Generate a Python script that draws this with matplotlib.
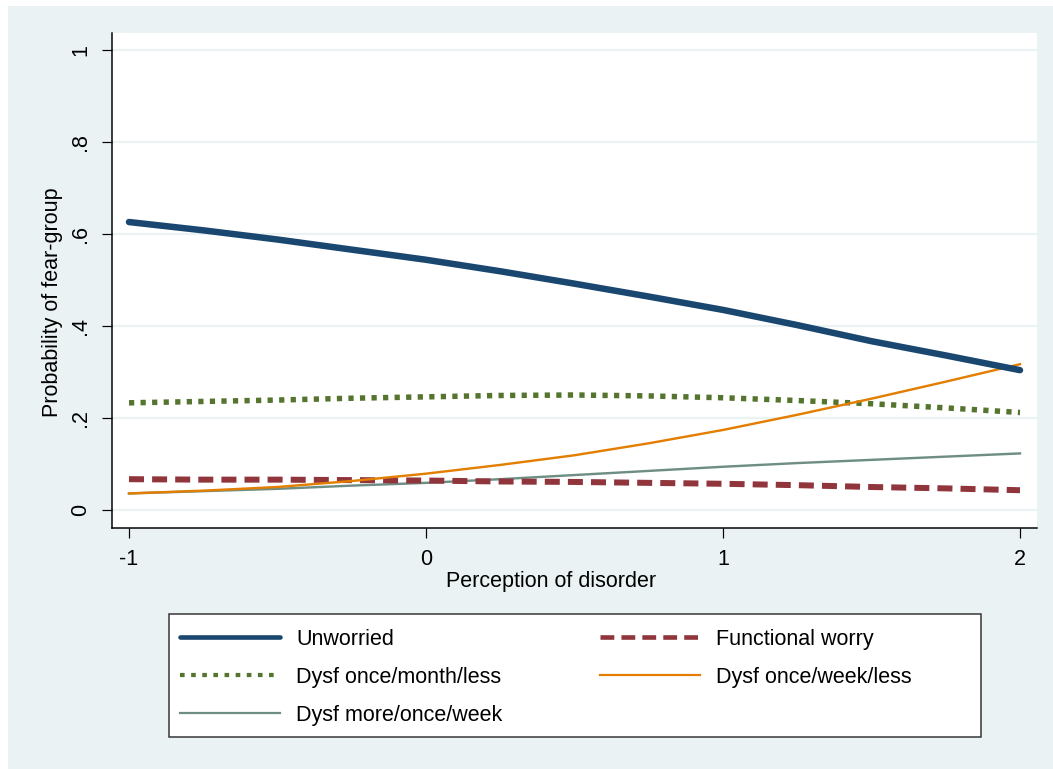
import matplotlib
matplotlib.use("Agg")
import matplotlib.pyplot as plt
from matplotlib.patches import Rectangle

plt.rcParams['font.family'] = ['Liberation Sans', 'DejaVu Sans']

# ---- data ----
x_vals = [-1, -0.75, -0.5, -0.25, 0, 0.25, 0.5, 0.75, 1, 1.25, 1.5, 1.75, 2]
unworried = [0.626, 0.608, 0.588, 0.566, 0.544, 0.519, 0.492, 0.464, 0.435, 0.402, 0.367, 0.336, 0.304]
functional_worry = [0.067, 0.066, 0.066, 0.065, 0.064, 0.062, 0.061, 0.059, 0.057, 0.054, 0.050, 0.047, 0.043]
dysf_month = [0.233, 0.236, 0.239, 0.243, 0.246, 0.249, 0.250, 0.248, 0.244, 0.238, 0.231, 0.222, 0.212]
dysf_week_less = [0.036, 0.042, 0.050, 0.063, 0.079, 0.098, 0.119, 0.145, 0.174, 0.207, 0.242, 0.279, 0.317]
dysf_more_week = [0.036, 0.041, 0.046, 0.053, 0.059, 0.067, 0.076, 0.085, 0.094, 0.102, 0.109, 0.116, 0.123]

x_ticks = [-1, 0, 1, 2]
x_ticklabels = ["-1", "0", "1", "2"]
y_ticks = [0, 0.2, 0.4, 0.6, 0.8, 1.0]
y_ticklabels = ["0", ".2", ".4", ".6", ".8", "1"]

W, H = 1053, 769
fig = plt.figure(figsize=(W / 100, H / 100), dpi=100)
fig.patch.set_facecolor("white")
BG = "#EAF2F3"
fig.patches.append(Rectangle((8 / W, 0), 1 - 8 / W, 1 - 6 / H, transform=fig.transFigure,
                             facecolor=BG, edgecolor="none", zorder=-10))

def px(x0, y0, x1, y1):
    return [x0 / W, 1 - y1 / H, (x1 - x0) / W, (y1 - y0) / H]

ax = fig.add_axes(px(112, 33, 1037, 528))
ax.set_facecolor("white")

PX = 0.72  # points per pixel
FS = 15.5

l1, = ax.plot(x_vals, unworried, color="#1A476F", lw=6.5 * PX, solid_capstyle="round",
              label="Unworried", zorder=5)
l2, = ax.plot(x_vals, functional_worry, color="#90353B", lw=6 * PX,
              dashes=(2.5, 1.35), dash_capstyle="butt", label="Functional worry", zorder=4)
l3, = ax.plot(x_vals, dysf_month, color="#55752F", lw=5.5 * PX,
              dashes=(0.95, 1.15), dash_capstyle="butt", label="Dysf once/month/less", zorder=4)
l4, = ax.plot(x_vals, dysf_week_less, color="#E37E00", lw=2.4 * PX,
              label="Dysf once/week/less", zorder=4)
l5, = ax.plot(x_vals, dysf_more_week, color="#6E8E84", lw=2.4 * PX,
              label="Dysf more/once/week", zorder=3)

ax.set_xlim(-1 - 17 / 297, 2 + 17 / 297)
ax.set_ylim(-18 / 460, 1 + 17 / 460)

ax.set_xticks(x_ticks)
ax.set_xticklabels(x_ticklabels)
ax.set_yticks(y_ticks)
ax.set_yticklabels(y_ticklabels, rotation=90, va="center")
ax.tick_params(axis="both", labelsize=FS, length=10 * PX, width=1.2 * PX, color="black",
               direction="out")
ax.tick_params(axis="y", pad=8)
ax.tick_params(axis="x", pad=8)

ax.grid(axis="y", color=BG, lw=2.2 * PX, zorder=0)
ax.set_axisbelow(True)
for s in ["top", "right"]:
    ax.spines[s].set_visible(False)
for s in ["left", "bottom"]:
    ax.spines[s].set_linewidth(1.5 * PX)
    ax.spines[s].set_color("black")

fig.text(53 / W, 1 - 302 / H, "Probability of fear-group", rotation=90, ha="center",
         va="center", fontsize=FS)
fig.text(551 / W, 1 - 581 / H, "Perception of disorder", ha="center", va="center",
         fontsize=FS)

# legend frame
fig.patches.append(Rectangle((169 / W, 1 - 737 / H), (981 - 169) / W, (737 - 614) / H,
                             transform=fig.transFigure, facecolor="white",
                             edgecolor="#333333", lw=1.5 * PX, zorder=1))
fs_px = FS / PX
leg = fig.legend([l1, l3, l5, l2, l4],
                 ["Unworried", "Dysf once/month/less", "Dysf more/once/week",
                  "Functional worry", "Dysf once/week/less"],
                 ncol=2, loc="upper left", bbox_to_anchor=(180 / W, 1 - 629 / H),
                 frameon=False, borderpad=0, borderaxespad=0,
                 handlelength=100 / fs_px, handletextpad=16 / fs_px,
                 columnspacing=98 / fs_px, labelspacing=0.79, fontsize=FS)
hs = leg.legend_handles
hs[0].set_linewidth(4.6 * PX)
hs[1].set_linewidth(4.2 * PX)
hs[1].set_dashes((1.1, 1.55))
hs[2].set_linewidth(2.2 * PX)
hs[3].set_linewidth(4.6 * PX)
hs[3].set_dashes((3.0, 1.55))
hs[4].set_linewidth(2.2 * PX)
leg.set_zorder(2)

fig.savefig("out.png", dpi=100)
